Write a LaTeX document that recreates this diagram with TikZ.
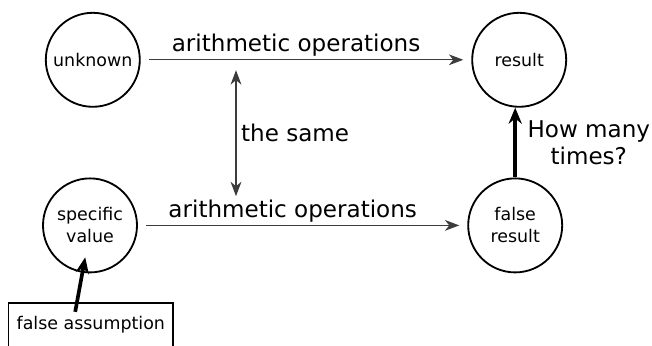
\documentclass[tikz,border=0pt]{standalone}
\usepackage{fontspec}
\setmainfont{DejaVu Sans}
\usetikzlibrary{arrows.meta,positioning}

\begin{document}
\begin{tikzpicture}[
    state/.style={circle, draw, line width=1.3pt, minimum size=2.35cm, inner sep=0pt, align=center, font=\fontsize{12.4}{15.6}\selectfont},
    flow/.style={draw=linegray, line width=0.9pt},
    bigtext/.style={font=\fontsize{16.4}{19}\selectfont, inner sep=1.8pt},
    bigarrow/.style={-{Stealth[length=4mm,width=3.3mm]}, line width=2.6pt},
    >={Stealth[length=3.6mm,width=2.7mm,inset=1.1mm]}
]
    % Define colors
    \definecolor{linegray}{RGB}{60,60,60}

    \useasboundingbox (0,0) rectangle (16.3,8.625);

    % Draw nodes
    \node[state] (unknown) at (2.32,7.13) {unknown};
    \node[state] (result) at (12.98,7.13) {result};
    \node[state] (specific) at (2.25,2.99) {specific\\value};
    \node[state] (falseres) at (12.88,2.99) {false\\result};
    \node[draw, line width=1.1pt, minimum width=4.12cm, minimum height=1.1cm, font=\fontsize{12.4}{15.6}\selectfont] (assume) at (2.27,0.5) {false assumption};

    % Draw arrows
    \draw[flow, ->, shorten <=0.2cm, shorten >=0.2cm] (unknown) -- (result)
        node[pos=0.47, above, bigtext] (opTop) {arithmetic operations};
    \draw[flow, ->, shorten <=0.2cm, shorten >=0.2cm] (specific) -- (falseres)
        node[pos=0.47, above, bigtext] (opBot) {arithmetic operations};

    % The same operations
    \coordinate (sameTop) at (5.9,6.87);
    \coordinate (sameBot) at (5.9,3.72);
    \draw[flow, <->] (sameTop) -- (sameBot)
        node[midway, right=0.05cm, bigtext] (same) {the same};

    % Thick arrows
    \draw[bigarrow] (falseres) -- (falseres |- result.south)
        node[midway, right=0.2cm, bigtext, align=center] (howmany) {How many\\times?};
    \draw[bigarrow] ([xshift=-0.39cm,yshift=-0.24cm]assume.north) -- ([xshift=-0.12cm,yshift=0.4cm]specific.south);
\end{tikzpicture}
\end{document}
